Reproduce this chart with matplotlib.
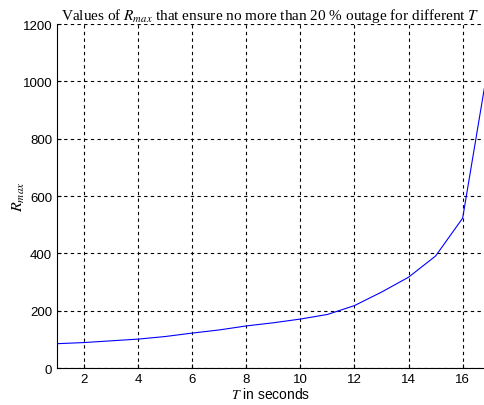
import matplotlib.pyplot as plt

# T values (seconds) and the matching R_max
T = [1, 2, 3, 4, 5, 6, 7, 8, 9, 10, 11, 12, 13, 14, 15, 16, 16.8]
R_max = [85, 89, 95, 101, 110, 122, 133, 147, 158, 171, 187, 218, 265, 317, 391, 523, 975]

x_ticks = [2, 4, 6, 8, 10, 12, 14, 16]
y_ticks = [0, 200, 400, 600, 800, 1000, 1200]

plt.rcParams['mathtext.fontset'] = 'stix'
plt.rcParams['font.family'] = ['Liberation Sans', 'DejaVu Sans']

fig = plt.figure(figsize=(4.85, 4.06), dpi=100)
ax = fig.add_axes([0.1175, 0.091, 0.881, 0.847])

ax.plot(T, R_max, color='blue', linewidth=0.8)

ax.set_xlim(1, 16.8)
ax.set_ylim(0, 1200)
ax.set_xticks(x_ticks)
ax.set_yticks(y_ticks)
ax.tick_params(direction='in', labelsize=9.5, length=3)
ax.grid(True, color='black', linestyle=(0, (3, 3)), linewidth=0.8)
ax.spines['top'].set_visible(False)
ax.spines['right'].set_visible(False)

ax.set_title(r'Values of $R_{max}$ that ensure no more than 20 % outage for different $T$',
             family='Liberation Serif', fontsize=11, pad=4)
ax.set_xlabel(r'$T$ in seconds', fontsize=10, labelpad=1)
ax.set_ylabel(r'$R_{max}$', fontsize=11.5, labelpad=-3)

fig.savefig('out.png', dpi=100)
